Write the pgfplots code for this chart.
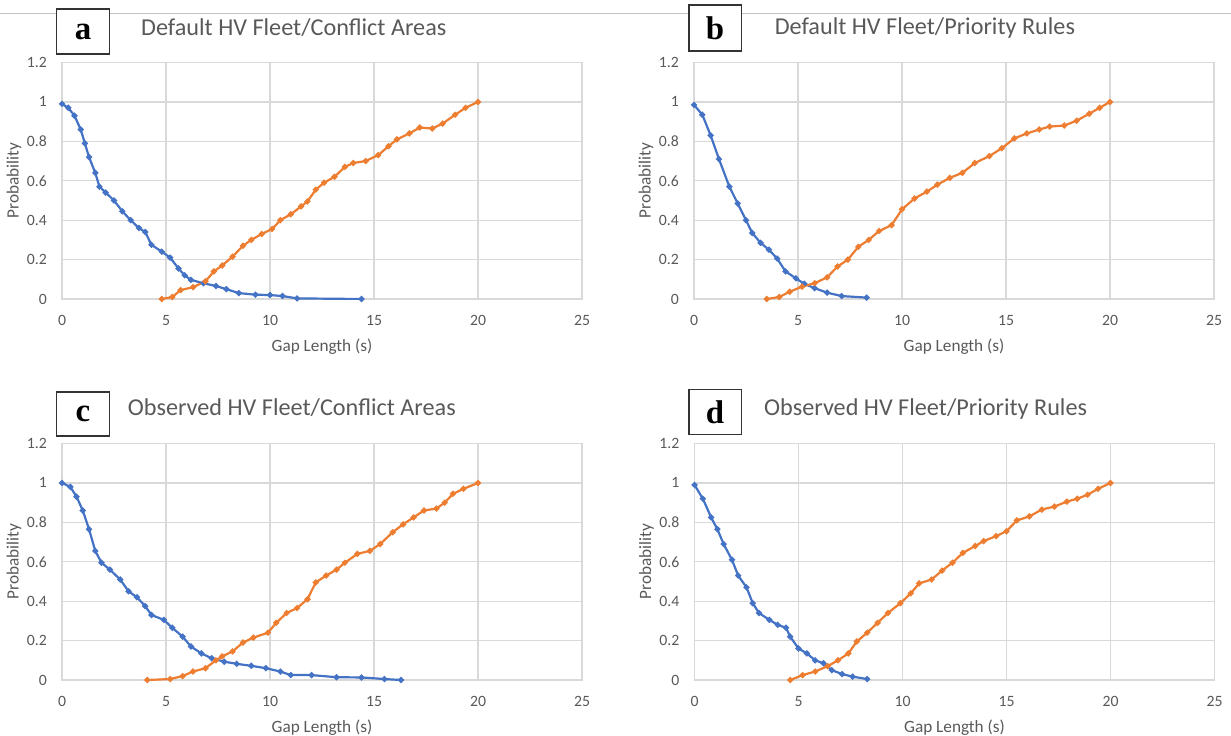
\documentclass[border=0pt]{standalone}
\usepackage{pgfplots}
\pgfplotsset{compat=1.18}
\usepackage{fontspec}
\setmainfont{Carlito}
\newfontfamily\labelfont{Liberation Serif}
\definecolor{cblue}{HTML}{4472C4}
\definecolor{corange}{HTML}{ED7D31}
\definecolor{gridc}{HTML}{D9D9D9}
\definecolor{txt}{HTML}{595959}
\definecolor{topline}{HTML}{C4C4C4}
\definecolor{boxc}{HTML}{333333}
\pgfplotsset{
 panel/.style={
  scale only axis, width=520bp, height=236.5bp, anchor=south west,
  xmin=0,xmax=25,ymin=0,ymax=1.2,
  xtick={0,5,10,15,20,25}, xticklabels={0,5,10,15,20,25},
  ytick={0,0.2,0.4,0.6,0.8,1,1.2}, yticklabels={0,0.2,0.4,0.6,0.8,1,1.2},
  /pgf/number format/assume math mode=true,
  major tick length=0,
  grid=major, major grid style={draw=gridc, line width=1.2bp},
  axis line style={draw=gridc, line width=1.2bp},
  tick label style={font=\fontsize{15.8}{18}\selectfont, text=txt},
  yticklabel style={inner sep=0pt, anchor=east, xshift=-15bp},
  xticklabel style={inner sep=0pt, anchor=north, yshift=-16bp},
  label style={font=\fontsize{17.3}{20}\selectfont, text=txt},
  xlabel={Gap Length (s)}, ylabel={Probability},
  xlabel style={at={(axis description cs:0.5,-0.203)}, anchor=center},
  ylabel style={at={(axis description cs:-0.0923,0.5)}, anchor=center},
 },
 bl/.style={color=cblue, mark=*, mark size=1.8bp, line width=2.2bp},
 or/.style={color=corange, mark=*, mark size=1.8bp, line width=2.2bp},
}
\newcommand\panellabel[5]{%
 \draw[boxc, line width=1.6bp, fill=white] (#1bp,-#2bp) rectangle (#3bp,-#4bp);
 \node[font=\labelfont\bfseries\fontsize{33}{36}\selectfont, inner sep=0pt] at ({(#1+#3)/2*1bp},{-(#2+#4)/2*1bp}) {#5};}
\begin{document}
\begin{tikzpicture}
\path[use as bounding box] (0bp,0bp) rectangle (1231bp,-736bp);
\draw[topline, line width=1.2bp] (0bp,-13.5bp) -- (1231bp,-13.5bp);

% ---------- a ----------
\begin{axis}[panel, at={(62bp,-299bp)}]
\addplot[bl] coordinates {(0,0.99)(0.3,0.97)(0.6,0.93)(0.9,0.86)(1.1,0.79)(1.3,0.72)(1.6,0.64)(1.8,0.57)(2.1,0.54)(2.5,0.50)(2.9,0.445)(3.3,0.40)(3.7,0.36)(4.0,0.34)(4.3,0.275)(4.8,0.24)(5.2,0.21)(5.6,0.155)(5.9,0.12)(6.2,0.097)(6.8,0.08)(7.4,0.066)(7.9,0.05)(8.5,0.03)(9.3,0.022)(10,0.02)(10.6,0.015)(11.3,0.003)(14.4,0.0)};
\addplot[or] coordinates {(4.8,0)(5.3,0.01)(5.7,0.045)(6.3,0.06)(6.9,0.09)(7.3,0.14)(7.7,0.17)(8.2,0.215)(8.7,0.27)(9.1,0.30)(9.6,0.33)(10.1,0.355)(10.5,0.40)(11.0,0.43)(11.5,0.47)(11.8,0.495)(12.2,0.555)(12.6,0.59)(13.1,0.62)(13.6,0.67)(14.0,0.69)(14.6,0.70)(15.2,0.73)(15.7,0.775)(16.1,0.81)(16.7,0.84)(17.2,0.87)(17.8,0.865)(18.3,0.89)(18.9,0.935)(19.4,0.97)(20.0,1.0)};
\end{axis}

% ---------- b ----------
\begin{axis}[panel, at={(694bp,-299bp)}]
\addplot[bl] coordinates {(0,0.985)(0.4,0.935)(0.8,0.83)(1.2,0.71)(1.7,0.57)(2.1,0.485)(2.5,0.40)(2.8,0.335)(3.2,0.285)(3.6,0.25)(4.0,0.205)(4.4,0.14)(4.9,0.105)(5.3,0.077)(5.8,0.055)(6.4,0.032)(7.1,0.015)(8.3,0.007)};
\addplot[or] coordinates {(3.5,0.0)(4.1,0.01)(4.6,0.037)(5.2,0.063)(5.8,0.08)(6.4,0.11)(6.9,0.165)(7.4,0.20)(7.9,0.265)(8.4,0.30)(8.9,0.345)(9.5,0.375)(10.0,0.455)(10.6,0.51)(11.2,0.545)(11.7,0.58)(12.3,0.615)(12.9,0.64)(13.5,0.69)(14.2,0.725)(14.8,0.765)(15.4,0.815)(16.0,0.84)(16.6,0.86)(17.1,0.875)(17.8,0.88)(18.4,0.905)(19.0,0.94)(19.5,0.97)(20.0,1.0)};
\end{axis}

% ---------- c ----------
\begin{axis}[panel, at={(62bp,-680bp)}]
\addplot[bl] coordinates {(0,1.0)(0.4,0.98)(0.7,0.93)(1.0,0.86)(1.3,0.765)(1.6,0.655)(1.9,0.595)(2.3,0.56)(2.8,0.51)(3.2,0.45)(3.6,0.42)(4.0,0.375)(4.3,0.33)(4.9,0.305)(5.3,0.265)(5.8,0.22)(6.2,0.17)(6.7,0.135)(7.2,0.11)(7.8,0.093)(8.4,0.082)(9.1,0.072)(9.8,0.06)(10.5,0.043)(11.0,0.025)(12.0,0.025)(13.2,0.014)(14.4,0.013)(15.5,0.005)(16.3,0.0)};
\addplot[or] coordinates {(4.1,0.0)(5.2,0.005)(5.8,0.02)(6.3,0.043)(6.9,0.06)(7.4,0.10)(7.7,0.12)(8.2,0.145)(8.7,0.19)(9.2,0.215)(9.9,0.24)(10.3,0.29)(10.8,0.34)(11.3,0.365)(11.8,0.41)(12.2,0.495)(12.7,0.53)(13.2,0.56)(13.6,0.595)(14.2,0.64)(14.8,0.655)(15.3,0.69)(15.9,0.75)(16.4,0.79)(16.9,0.825)(17.4,0.86)(18.0,0.87)(18.4,0.90)(18.8,0.945)(19.3,0.97)(20.0,1.0)};
\end{axis}

% ---------- d ----------
\begin{axis}[panel, at={(694.5bp,-680bp)}]
\addplot[bl] coordinates {(0,0.99)(0.4,0.92)(0.8,0.825)(1.1,0.765)(1.4,0.69)(1.8,0.61)(2.1,0.53)(2.5,0.47)(2.8,0.39)(3.1,0.34)(3.6,0.305)(4.0,0.28)(4.4,0.265)(4.6,0.22)(5.0,0.16)(5.4,0.135)(5.8,0.10)(6.2,0.085)(6.6,0.05)(7.1,0.03)(7.6,0.017)(8.3,0.005)};
\addplot[or] coordinates {(4.6,0.0)(5.2,0.025)(5.8,0.043)(6.4,0.07)(6.9,0.10)(7.4,0.135)(7.8,0.195)(8.3,0.24)(8.8,0.29)(9.3,0.34)(9.9,0.39)(10.4,0.44)(10.8,0.49)(11.4,0.51)(11.9,0.555)(12.4,0.595)(12.9,0.645)(13.5,0.68)(13.9,0.705)(14.5,0.73)(15.0,0.755)(15.5,0.81)(16.1,0.83)(16.7,0.865)(17.3,0.88)(17.9,0.905)(18.4,0.92)(18.9,0.94)(19.4,0.97)(20.0,1.0)};
\end{axis}

% titles
\begin{scope}[every node/.style={anchor=base west, inner sep=0pt, text=txt, font=\fontsize{24.3}{29}\selectfont}]
\node at (141bp,-35.7bp) {Default HV Fleet/Conflict Areas};
\node at (774.6bp,-34.3bp) {Default HV Fleet/Priority Rules};
\node at (127.7bp,-415.7bp) {Observed HV Fleet/Conflict Areas};
\node at (764bp,-415.7bp) {Observed HV Fleet/Priority Rules};
\end{scope}

% panel letters
\panellabel{56.5}{9}{109.5}{54}{a}
\panellabel{688.7}{5}{741.5}{50.7}{b}
\panellabel{56.5}{391.7}{109.5}{435.7}{c}
\panellabel{688.7}{389.3}{741.5}{434.3}{d}
\end{tikzpicture}
\end{document}
